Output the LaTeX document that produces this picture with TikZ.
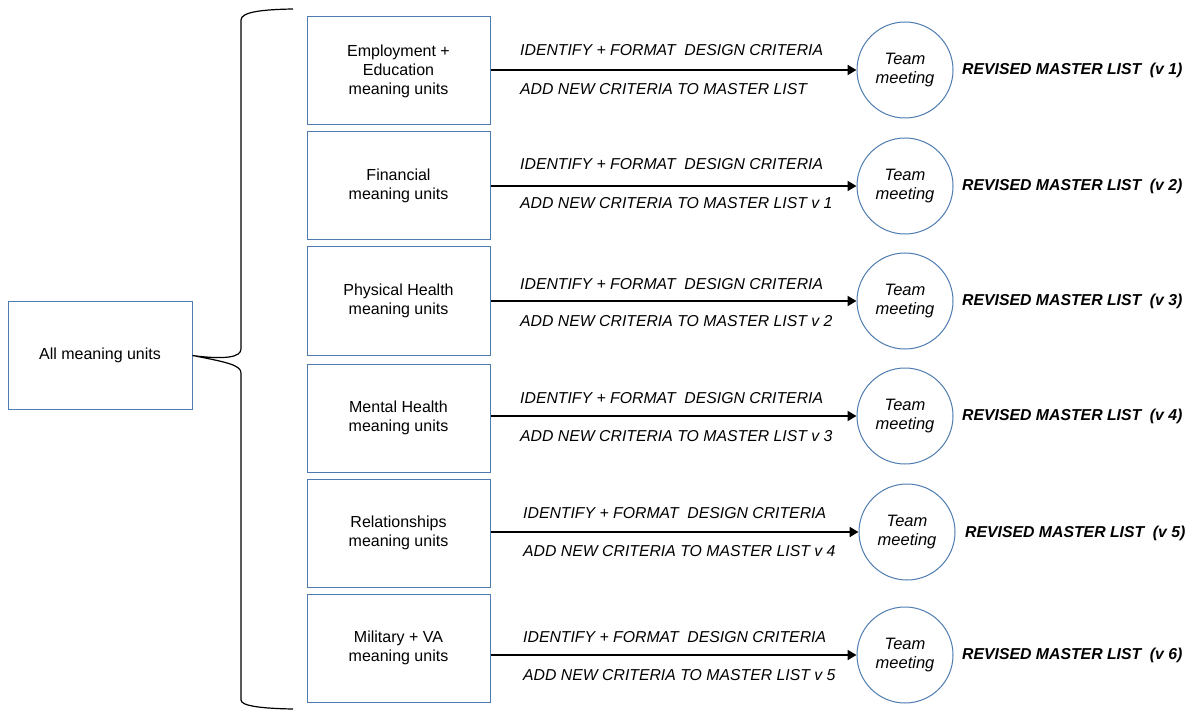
\documentclass[tikz,border=0pt]{standalone}
\usepackage{fontspec}
\setmainfont{Liberation Sans}
\usetikzlibrary{arrows.meta}
\definecolor{boxblue}{HTML}{4F7CB0}
\begin{document}
\begin{tikzpicture}[x=1pt,y=-1pt,
  unitbox/.style={draw=boxblue, line width=1pt, minimum width=183pt, minimum height=108pt,
    align=center, font=\fontsize{16}{19}\selectfont, inner sep=0pt},
  meet/.style={draw=boxblue, line width=1pt, circle, minimum size=96pt, inner sep=0pt,
    align=center, font=\fontsize{16.5}{19}\selectfont\itshape},
  flow/.style={line width=2.8pt, -{Triangle[length=9pt,width=10pt]}},
  steplabel/.style={font=\fontsize{15.8}{18}\selectfont\itshape, anchor=west, inner sep=0pt},
  result/.style={font=\fontsize{15.8}{18}\selectfont\bfseries\itshape, anchor=west, inner sep=0pt},
  bracket/.style={line width=1.2pt, black}
]
\useasboundingbox (0,0) rectangle (1191,711);

% source box
\node[unitbox, minimum width=184pt, minimum height=107pt] (all) at (100,355.5) {All meaning units};

% category boxes
\node[unitbox] (u1) at (398.5,71)  {Employment +\\Education\\meaning units};
\node[unitbox] (u2) at (398.5,186) {Financial\\meaning units};
\node[unitbox] (u3) at (398.5,301) {Physical Health\\meaning units};
\node[unitbox] (u4) at (398.5,418) {Mental Health\\meaning units};
\node[unitbox] (u5) at (398.5,533) {Relationships\\meaning units};
\node[unitbox] (u6) at (398.5,648) {Military + VA\\meaning units};

% team meetings
\node[meet] (m1) at (905,70)  {Team\\meeting};
\node[meet] (m2) at (905,186) {Team\\meeting};
\node[meet] (m3) at (905,301) {Team\\meeting};
\node[meet] (m4) at (905,416) {Team\\meeting};
\node[meet] (m5) at (907,532) {Team\\meeting};
\node[meet] (m6) at (905,655) {Team\\meeting};

% arrows from categories to meetings
\foreach \i in {1,...,6}{
  \draw[flow] (u\i.east |- m\i.west) -- (m\i.west);
}

% step labels
\newcommand{\gap}{\hspace{0.55em}}
\node[steplabel] (i1) at (520,50)  {IDENTIFY + FORMAT\gap DESIGN CRITERIA};
\node[steplabel] (a1) at (520,89)  {ADD NEW CRITERIA TO MASTER LIST};
\node[steplabel] (i2) at (520,164) {IDENTIFY + FORMAT\gap DESIGN CRITERIA};
\node[steplabel] (a2) at (520,203) {ADD NEW CRITERIA TO MASTER LIST v 1};
\node[steplabel] (i3) at (520,284) {IDENTIFY + FORMAT\gap DESIGN CRITERIA};
\node[steplabel] (a3) at (520,321) {ADD NEW CRITERIA TO MASTER LIST v 2};
\node[steplabel] (i4) at (520,398) {IDENTIFY + FORMAT\gap DESIGN CRITERIA};
\node[steplabel] (a4) at (520,436) {ADD NEW CRITERIA TO MASTER LIST v 3};
\node[steplabel] (i5) at (523,513) {IDENTIFY + FORMAT\gap DESIGN CRITERIA};
\node[steplabel] (a5) at (523,551) {ADD NEW CRITERIA TO MASTER LIST v 4};
\node[steplabel] (i6) at (523,637) {IDENTIFY + FORMAT\gap DESIGN CRITERIA};
\node[steplabel] (a6) at (523,675) {ADD NEW CRITERIA TO MASTER LIST v 5};

% revised lists
\node[result] (r1) at (962,70)  {REVISED MASTER LIST\gap(v 1)};
\node[result] (r2) at (962,186) {REVISED MASTER LIST\gap(v 2)};
\node[result] (r3) at (962,301) {REVISED MASTER LIST\gap(v 3)};
\node[result] (r4) at (962,416) {REVISED MASTER LIST\gap(v 4)};
\node[result] (r5) at (965,533) {REVISED MASTER LIST\gap(v 5)};
\node[result] (r6) at (962,655) {REVISED MASTER LIST\gap(v 6)};

% curly bracket grouping the categories
\coordinate (btop) at (293,9);
\coordinate (bbot) at (293,709);
\draw[bracket] (btop) .. controls (262,9.5) and (241,12) .. (241,20)
  -- (241,349) .. controls (241,357) and (226,360) .. (all.east)
  .. controls (226,362) and (241,365) .. (241,373)
  -- (241,700) .. controls (241,706) and (262,708.5) .. (bbot);
\end{tikzpicture}
\end{document}
